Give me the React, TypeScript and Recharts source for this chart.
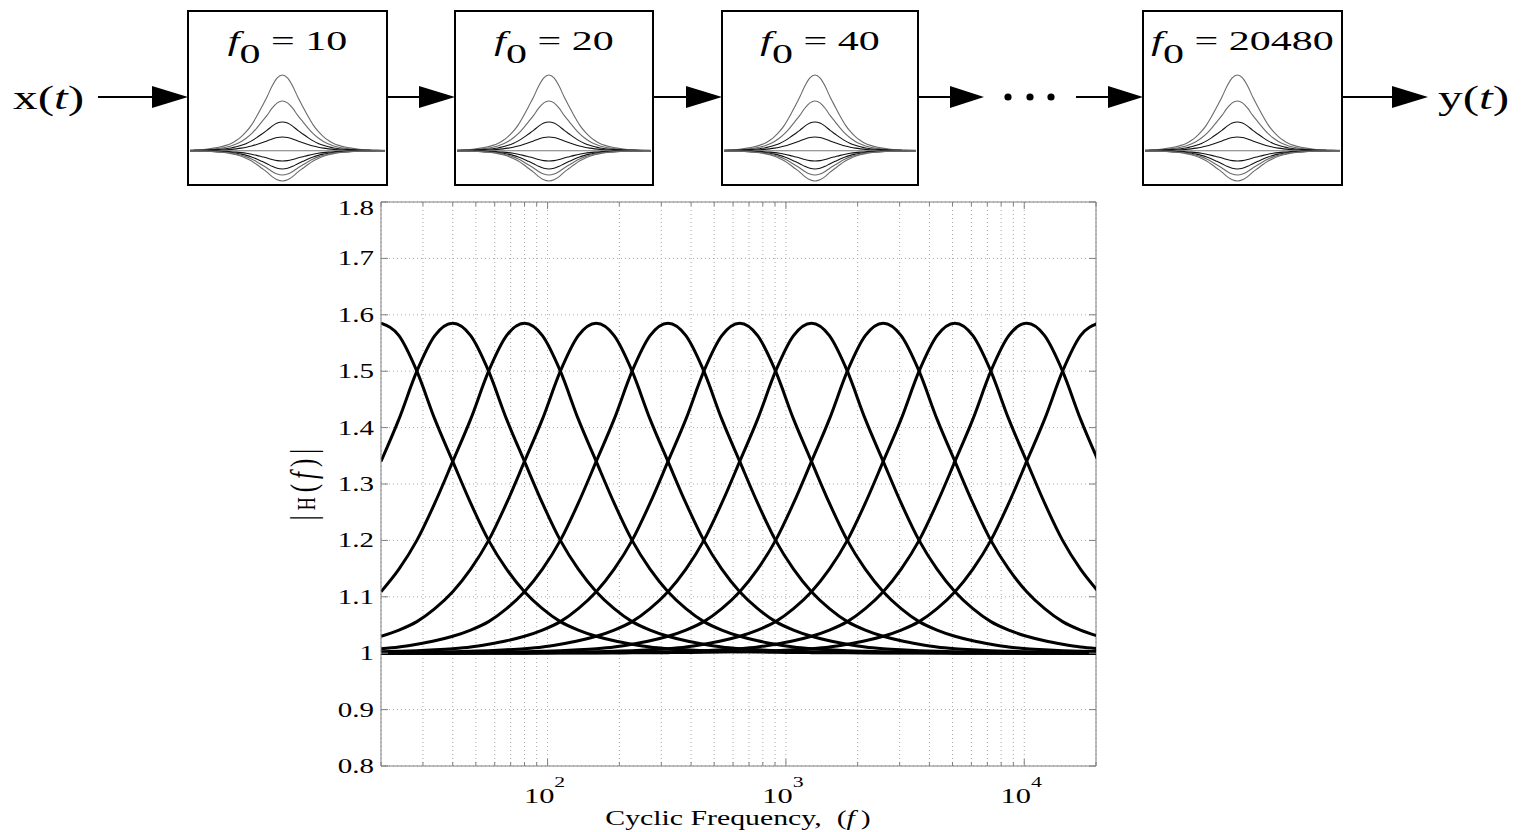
import React from "react";
import { LineChart, Line, XAxis, YAxis, CartesianGrid, ReferenceLine } from "recharts";

// centre frequencies of the cascaded peaking filters drawn in the plot
const centreFreqs = [20, 40, 80, 160, 320, 640, 1280, 2560, 5120, 10240, 20480];
const responseShape = [
  1.585, 1.563, 1.5, 1.415, 1.34, 1.266, 1.2, 1.149, 1.109, 1.079, 1.056, 1.041, 1.03, 1.022,
  1.016, 1.011, 1.008, 1.006, 1.0045, 1.0035, 1.0027, 1.0021, 1.0016, 1.0013, 1.001, 1.0008,
  1.0006, 1.0005, 1.0004, 1.0003, 1.0002, 1.0002, 1.0001, 1.0001, 1.0001, 1, 1, 1, 1, 1, 1,
];
const xTicks = [
  20, 30, 40, 50, 60, 70, 80, 90, 100, 200, 300, 400, 500, 600, 700, 800, 900, 1000, 2000, 3000,
  4000, 5000, 6000, 7000, 8000, 9000, 10000, 20000,
];
const yTicks = [0.8, 0.9, 1, 1.1, 1.2, 1.3, 1.4, 1.5, 1.6, 1.7, 1.8];

// block diagram
const blockLabels = ["10", "20", "40", "20480"];
const blockLeft = [188, 455, 722, 1143];
const blockWidth = [199, 198, 196, 199];
// peak gains of the small family of curves inside each block
const miniGains = [1.757, 1.497, 1.287, 1.137, 1, 0.897, 0.817, 0.757, 0.697];
const miniColors = ["#6a6a6a", "#6a6a6a", "#111", "#111", "#777", "#111", "#111", "#6a6a6a", "#6a6a6a"];

const FONT = "'Liberation Serif', 'Times New Roman', serif";
const SX = 1.45; // the original figure is stretched sideways
const AXIS = "#808080";
const PL = 381, PR = 1096, PT = 202, PB = 766;

const table = responseShape.map((_, k) => {
  const row: Record<string, number> = { f: centreFreqs[0] * 2 ** (k / 4) };
  centreFreqs.forEach((c, j) => {
    row["c" + j] = responseShape[Math.abs(k - 4 * j)];
  });
  return row;
});

const miniTable: Record<string, number>[] = [];
for (let q = -18; q <= 20; q++) {
  const row: Record<string, number> = { o: q / 4 };
  const bell = (responseShape[Math.abs(q)] - 1) / (responseShape[0] - 1);
  miniGains.forEach((g, i) => {
    row["g" + i] = 1 + (g - 1) * bell;
  });
  miniTable.push(row);
}

const XTick = (props: any) => {
  const { x, payload } = props;
  const v = payload.value;
  const exp = Math.log10(v);
  const major = Math.abs(exp - Math.round(exp)) < 1e-9;
  const len = major ? 7 : 4;
  return (
    <g>
      <line x1={x} x2={x} y1={PB} y2={PB - len} stroke={AXIS} />
      <line x1={x} x2={x} y1={PT} y2={PT + len} stroke={AXIS} />
      {major && v > 20 && v < 20000 && (
        <text
          transform={`translate(${x - 3},803) scale(${SX},1)`}
          textAnchor="middle"
          fontSize={21}
          fontFamily={FONT}
          fill="#000"
        >
          10
          <tspan dy={-16} fontSize={15}>
            {Math.round(exp)}
          </tspan>
        </text>
      )}
    </g>
  );
};

const YTick = (props: any) => {
  const { y, payload } = props;
  const v = payload.value;
  const label = Number(v.toFixed(1)).toString();
  const ty = v >= 1.8 ? y + 13 : y + 7;
  return (
    <g>
      <line x1={PL} x2={PL + 7} y1={y} y2={y} stroke={AXIS} />
      <line x1={PR} x2={PR - 7} y1={y} y2={y} stroke={AXIS} />
      <text
        transform={`translate(374,${ty}) scale(${SX},1)`}
        textAnchor="end"
        fontSize={20}
        fontFamily={FONT}
        fill="#000"
      >
        {label}
      </text>
    </g>
  );
};

function Arrow({ x1, head, tip }: { x1: number; head: number; tip: number }) {
  const y = 97;
  return (
    <g>
      <line x1={x1} x2={head + 2} y1={y} y2={y} stroke="#000" strokeWidth={2} />
      <polygon points={`${head},${y - 11} ${tip},${y} ${head},${y + 11}`} fill="#000" />
    </g>
  );
}

function Diagram() {
  const arrows = [
    [98, 152, 188],
    [387, 419, 455],
    [653, 686, 722],
    [918, 950, 984],
    [1076, 1108, 1143],
    [1342, 1392, 1428],
  ];
  return (
    <>
      <svg width={1522} height={200} style={{ position: "absolute", left: 0, top: 0 }}>
        {blockLeft.map((bx, i) => (
          <g key={i}>
            <rect x={bx} y={11} width={blockWidth[i]} height={174} fill="#fff" stroke="#000" strokeWidth={2} />
            <text
              transform={`translate(${bx + blockWidth[i] / 2},50) scale(1.5,1)`}
              textAnchor="middle"
              fontSize={28}
              fontFamily={FONT}
            >
              <tspan fontStyle="italic">f</tspan>
              <tspan dy={13}>0</tspan>
              <tspan dy={-13}>{"\u00a0=\u00a0" + blockLabels[i]}</tspan>
            </text>
          </g>
        ))}
        {arrows.map(([a, b, c], i) => (
          <Arrow key={i} x1={a} head={b} tip={c} />
        ))}
        {[1008, 1030, 1051].map((cx) => (
          <circle key={cx} cx={cx} cy={97} r={3.6} fill="#000" />
        ))}
        <text transform={`translate(13,109) scale(${SX},1)`} fontSize={34} fontFamily={FONT}>
          x(<tspan fontStyle="italic">t</tspan>)
        </text>
        <text transform={`translate(1438,109) scale(${SX},1)`} fontSize={34} fontFamily={FONT}>
          y(<tspan fontStyle="italic">t</tspan>)
        </text>
      </svg>
      {blockLeft.map((bx, i) => (
        <div key={i} style={{ position: "absolute", left: bx + 2, top: 12 }}>
          <LineChart width={blockWidth[i] - 4} height={172} data={miniTable} margin={{ top: 0, right: 0, bottom: 0, left: 0 }}>
            <XAxis dataKey="o" type="number" domain={[-4.5, 5]} hide />
            <YAxis type="number" domain={[0.667, 2.387]} hide />
            {miniGains.map((_, k) => (
              <Line
                key={k}
                dataKey={"g" + k}
                type="monotone"
                stroke={miniColors[k]}
                strokeWidth={1.1}
                dot={false}
                isAnimationActive={false}
              />
            ))}
          </LineChart>
        </div>
      ))}
    </>
  );
}

export default function App() {
  return (
    <div style={{ position: "absolute", left: 0, top: 0, width: 1522, height: 832, background: "#fff" }}>
      <Diagram />
      <div style={{ position: "absolute", left: 0, top: 0 }}>
        <LineChart width={1522} height={832} data={table} margin={{ top: PT, right: 1522 - PR, bottom: 6, left: PL - 80 }}>
          <CartesianGrid stroke="#a8a8a8" strokeDasharray="1 3" />
          <XAxis
            dataKey="f"
            type="number"
            scale="log"
            domain={[20, 20000]}
            allowDataOverflow
            ticks={xTicks}
            interval={0}
            height={60}
            tickSize={0}
            tickMargin={0}
            tick={<XTick />}
            stroke={AXIS}
          />
          <YAxis
            type="number"
            domain={[0.8, 1.8]}
            allowDataOverflow
            ticks={yTicks}
            interval={0}
            width={80}
            tickSize={0}
            tickMargin={0}
            tick={<YTick />}
            stroke={AXIS}
          />
          <ReferenceLine y={1.8} stroke={AXIS} />
          <ReferenceLine x={20000} stroke={AXIS} />
          {centreFreqs.map((c, j) => (
            <Line
              key={c}
              dataKey={"c" + j}
              type="monotone"
              stroke="#000"
              strokeWidth={3}
              dot={false}
              isAnimationActive={false}
            />
          ))}
        </LineChart>
      </div>
      <svg width={1522} height={832} style={{ position: "absolute", left: 0, top: 0, pointerEvents: "none" }}>
        <text
          transform={`translate(738,825) scale(1.42,1)`}
          textAnchor="middle"
          fontSize={21}
          fontFamily={FONT}
        >
          {"Cyclic Frequency,\u00a0\u00a0("}
          <tspan fontStyle="italic">f</tspan>
          {"\u2009)"}
        </text>
        <text
          transform={`translate(315,482) scale(${SX},1) rotate(-90)`}
          textAnchor="middle"
          fontSize={25}
          fontFamily={FONT}
          letterSpacing={5}
        >
          |<tspan fontSize={18}>H</tspan>(<tspan fontStyle="italic">f</tspan>)|
        </text>
      </svg>
    </div>
  );
}
